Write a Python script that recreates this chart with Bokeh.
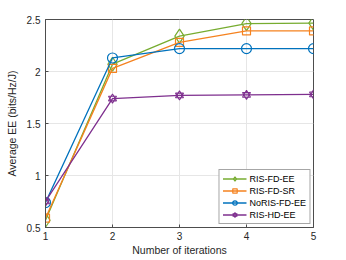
from bokeh.plotting import figure
from bokeh.models import ColumnDataSource, Legend, LegendItem, FixedTicker, Range1d
from bokeh.embed import file_html
from bokeh.resources import INLINE

iters = [1, 2, 3, 4, 5]
ris_fd_ee = [0.57, 2.07, 2.34, 2.46, 2.465]
ris_fd_sr = [0.59, 2.03, 2.28, 2.39, 2.39]
noris_fd_ee = [0.74, 2.13, 2.22, 2.22, 2.22]
ris_hd_ee = [0.75, 1.74, 1.77, 1.775, 1.78]

names = ["RIS-FD-EE", "RIS-FD-SR", "NoRIS-FD-EE", "RIS-HD-EE"]
colors = ["#77AC30", "#F5821F", "#0072BD", "#7E2F8E"]

FONT = "Liberation Sans"

p = figure(width=338, height=258, output_backend="svg", toolbar_location=None,
           x_range=Range1d(1, 5), y_range=Range1d(0.5, 2.5),
           min_border_left=45, min_border_top=19, min_border_right=25, min_border_bottom=29)
p.outline_line_color = "#4d4d4d"
p.outline_line_width = 1
p.background_fill_color = "white"
p.border_fill_color = "white"

for ax in (p.xaxis[0], p.yaxis[0]):
    ax.major_tick_in = 3
    ax.major_tick_out = 0
    ax.minor_tick_in = 0
    ax.minor_tick_out = 0
    ax.axis_line_color = "#4d4d4d"
    ax.major_tick_line_color = "#4d4d4d"
    ax.major_label_text_font = FONT
    ax.major_label_text_font_size = "10px"
    ax.major_label_text_color = "#262626"
    ax.axis_label_text_font = FONT
    ax.axis_label_text_font_size = "10.5px"
    ax.axis_label_text_font_style = "normal"
    ax.axis_label_text_color = "#262626"

p.xaxis.ticker = FixedTicker(ticks=iters)
p.yaxis.ticker = FixedTicker(ticks=[0.5, 1, 1.5, 2, 2.5])
p.yaxis.major_label_overrides = {0.5: "0.5", 1: "1", 1.5: "1.5", 2: "2", 2.5: "2.5"}
p.xaxis.axis_label = "Number of iterations"
p.yaxis.axis_label = "Average EE (bits/Hz/J)"
p.xaxis.axis_label_standoff = 1
p.yaxis.axis_label_standoff = 6
p.xaxis.major_label_standoff = 4
p.yaxis.major_label_standoff = 5

p.grid.grid_line_color = "#e6e6e6"
p.grid.grid_line_width = 1

series = [ris_fd_ee, ris_fd_sr, noris_fd_ee, ris_hd_ee]
items = []
for name, col, ys, mk in zip(names, colors, series, ["diamond", "square", "circle", "hex"]):
    src = ColumnDataSource(dict(x=iters, y=ys))
    r_line = p.line("x", "y", source=src, line_color=col, line_width=1.3)
    rs = [r_line]
    if mk == "diamond":
        rs.append(p.scatter("x", "y", source=src, marker="diamond", size=14, line_color=col,
                            fill_color=None, line_width=1.2))
    elif mk == "square":
        rs.append(p.scatter("x", "y", source=src, marker="square", size=8, line_color=col,
                            fill_color=None, line_width=1.2))
    elif mk == "circle":
        rs.append(p.scatter("x", "y", source=src, marker="circle", size=10, line_color=col,
                            fill_color=None, line_width=1.2))
    else:
        rs.append(p.scatter("x", "y", source=src, marker="triangle", size=8, line_color=col,
                            fill_color=None, line_width=1.1))
        rs.append(p.scatter("x", "y", source=src, marker="inverted_triangle", size=8, line_color=col,
                            fill_color=None, line_width=1.1))
    items.append(LegendItem(label=name, renderers=rs))

legend = Legend(items=items, location="bottom_right")
legend.label_text_font = FONT
legend.label_text_font_size = "9px"
legend.label_text_color = "#000000"
legend.border_line_color = "#4d4d4d"
legend.border_line_width = 1
legend.glyph_width = 24
legend.glyph_height = 11
legend.spacing = 1
legend.padding = 3
legend.margin = 3
legend.label_standoff = 3
legend.label_height = 11
p.add_layout(legend)

open("out.html", "w").write(file_html(p, INLINE))
